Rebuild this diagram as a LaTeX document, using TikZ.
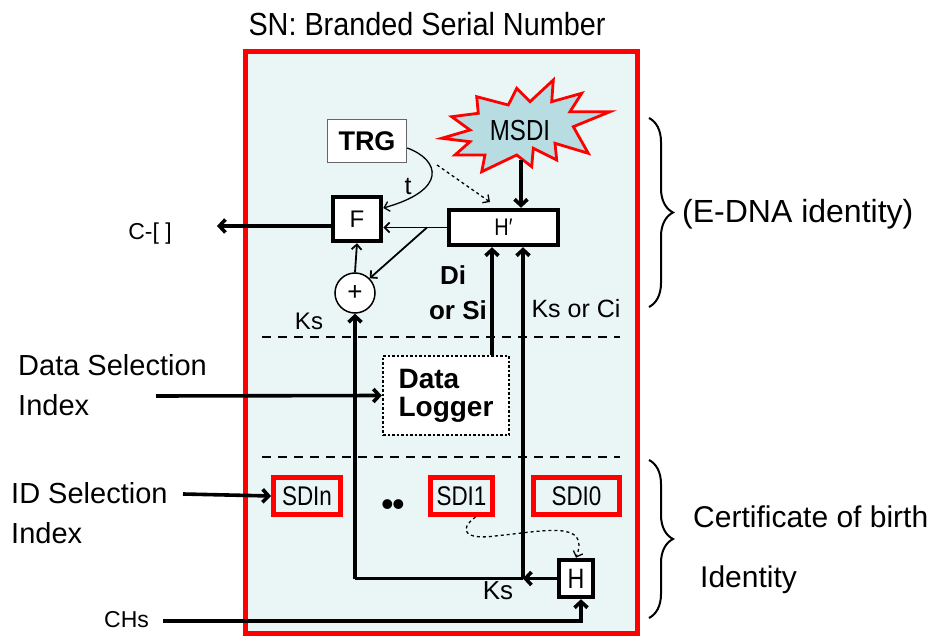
\documentclass[tikz,border=0pt]{standalone}
\usepackage{fontspec}
\setmainfont{Liberation Sans}
\newfontfamily\nfont{Liberation Sans}[FakeStretch=0.83]
\newfontfamily\tfont{Liberation Sans}[FakeStretch=0.9]
\usetikzlibrary{arrows.meta,decorations.pathreplacing}
\definecolor{bg}{RGB}{234,246,246}
\definecolor{burst}{RGB}{183,221,226}
\newcommand{\fsz}[1]{\fontsize{#1}{#1}\selectfont}
\begin{document}
\begin{tikzpicture}[x=1pt,y=-1pt,
  thk/.style={line width=3.6pt,-{Straight Barb[length=6pt,width=13pt]}},
  thn/.style={line width=1.8pt,-{Straight Barb[length=5pt,width=10pt]}},
  blk/.style={draw,line width=4.5pt,fill=white,inner sep=0pt},
  sdi/.style={draw=red,line width=5pt,inner sep=0pt,minimum height=37pt,font=\nfont\fsz{27}},
  lbl/.style={inner sep=0pt},
  sep/.style={line width=2.8pt,dash pattern=on 9pt off 7pt},
  brc/.style={decorate,decoration={brace,amplitude=24pt},line width=2pt}]
\useasboundingbox (0,0) rectangle (932,636);
% frame
\node[draw=red,line width=5pt,fill=bg,minimum width=391.5pt,minimum height=581pt,inner sep=0pt] (frame) at (441.25,342.5) {};
\node[lbl,anchor=base,font=\tfont\fsz{32}] (title) at (427,36) {SN: Branded Serial Number};
% separators
\coordinate (s1a) at (262,337); \coordinate (s1b) at (620,337);
\coordinate (s2a) at (262,457); \coordinate (s2b) at (620,457);
\draw[sep] (s1a) -- (s1b);
\draw[sep] (s2a) -- (s2b);
% burst
\draw[red,line width=2.8pt,fill=burst,line join=miter]
 (441.7,138.3) -- (470,130) -- (451.7,116.7) -- (478.3,113.3) -- (476.7,96.7) -- (508.3,105) --
 (516.7,88.3) -- (530,101.7) -- (553.3,80) -- (551.7,101.7) -- (581.7,93.3) -- (570,111.7) --
 (610,111.7) -- (573.3,126.7) -- (588.3,153.3) -- (555,143.3) -- (556.7,160) -- (533.3,148.3) --
 (531.7,166.7) -- (516.7,155) -- (481.7,171.7) -- (485,155) -- (455,155) -- (470,141.7) -- cycle;
\node[lbl,font=\nfont\fsz{29}] (msdi) at (520,131) {MSDI};
% boxes
\node[draw=black!60,line width=1.4pt,fill=white,minimum width=79pt,minimum height=43pt,inner sep=0pt,font=\bfseries\fsz{27}] (trg) at (367,141) {TRG};
\node[blk,minimum width=48pt,minimum height=44pt,font=\fsz{24}] (F) at (357,219) {F};
\node[blk,minimum width=109pt,minimum height=35pt,font=\nfont\fsz{24}] (hp) at (503.5,227.5) {H′};
\node[draw,line width=1.5pt,fill=white,circle,minimum size=40pt,inner sep=0pt,font=\fsz{26}] (plus) at (355,293) {+};
\node[draw,line width=2.5pt,dotted,fill=white,minimum width=126pt,minimum height=79pt,inner sep=0pt,align=left,font=\bfseries\fsz{28}] (dl) at (446,395.5) {\fontsize{28}{35}\selectfont Data\\Logger};
\node[sdi,minimum width=67pt] (sdin) at (307,496) {SDIn};
\node[sdi,minimum width=62pt] (sdi1) at (461.5,496) {SDI1};
\node[sdi,minimum width=86pt] (sdi0) at (576.5,496) {SDI0};
\node[blk,minimum width=34pt,minimum height=37pt,font=\nfont\fsz{28}] (H) at (576,578.5) {H};
\node[lbl,anchor=base,font=\fsz{36}] (dots) at (393,516) {•\kern-1.6pt•};
% labels
\node[lbl,font=\fsz{25}] (t) at (408,187) {t};
\node[lbl,anchor=base,font=\bfseries\fsz{26}] (di) at (453,285) {Di};
\node[lbl,anchor=base,font=\bfseries\fsz{26}] (orsi) at (458,320) {or Si};
\node[lbl,anchor=base,font=\fsz{24}] (ks1) at (309,330) {Ks};
\node[lbl,anchor=base,font=\fsz{25}] (ksci) at (576,318) {Ks or Ci};
\node[lbl,anchor=base,font=\fsz{26}] (ks2) at (498,599) {Ks};
\node[lbl,anchor=base,font=\fsz{23}] (cout) at (150,240) {C-[ ]};
\node[lbl,anchor=base west,font=\fsz{29}] (dsi1) at (18,375) {Data Selection};
\node[lbl,anchor=base west,font=\fsz{29}] (dsi2) at (18,415) {Index};
\node[lbl,anchor=base west,font=\fsz{29}] (idsi1) at (11,503) {ID Selection};
\node[lbl,anchor=base west,font=\fsz{29}] (idsi2) at (11,543) {Index};
\node[lbl,anchor=base west,font=\fsz{23}] (chs) at (104,627) {CHs};
\node[lbl,anchor=base west,font=\fsz{32}] (edna) at (682,223) {(E-DNA identity)};
\node[lbl,anchor=base west,font=\fsz{30}] (cert1) at (693,527) {Certificate of birth};
\node[lbl,anchor=base west,font=\fsz{30}] (cert2) at (700,587) {Identity};
% braces
\coordinate (b1a) at (649,118); \coordinate (b1b) at (649,307);
\coordinate (b2a) at (649,460); \coordinate (b2b) at (649,618);
\draw[brc] (b1a) -- (b1b);
\draw[brc] (b2a) -- (b2b);
% connectors
\coordinate (mb) at (521,160);
\draw[thk] (mb) -- (hp.north -| mb);
\draw[thn,line width=1.3pt] ([yshift=-7pt]trg.east) .. controls (440,160) and (448,190) .. ([yshift=11pt]F.east);
\coordinate (d1) at (437,165); \coordinate (d2) at (490,202);
\draw[thn,line width=1.3pt,dashed] (d1) -- (d2);
\draw[thn] (hp.west) -- (hp.west -| F.east);
\coordinate (br) at (427,227.5);
\draw[thn] (br) -- (plus.north east);
\draw[thn] (plus.north) -- (F.south);
\coordinate (cl) at (217,226);
\draw[thk] (cl -| F.west) -- (cl);
\coordinate (xa) at (492,0);
\draw[thk] (dl.north -| xa) -- (hp.south -| xa);
\coordinate (jn) at (523,578.5);
\draw[line width=3.6pt] (jn) -- (jn -| plus.south);
\draw[thk] (jn -| plus.south) -- (plus.south);
\draw[thk] (jn) -- (hp.south -| jn);
\draw[thk] (H.west) -- (jn);
\coordinate (chsl) at (163,621);
\draw[thk] (chsl) -| ([xshift=5pt]H.south);
\coordinate (dsl) at (156,396);
\draw[thk] (dsl) -- (dl.west);
\coordinate (idl) at (183,494);
\draw[thk] (idl) -- (sdin.west);
\draw[thn,line width=1.3pt,dashed] ([xshift=14pt]sdi1.south) .. controls (458,530) and (465,540) .. (495,536) .. controls (545,531) and (590,520) .. (H.north);
\end{tikzpicture}
\end{document}
